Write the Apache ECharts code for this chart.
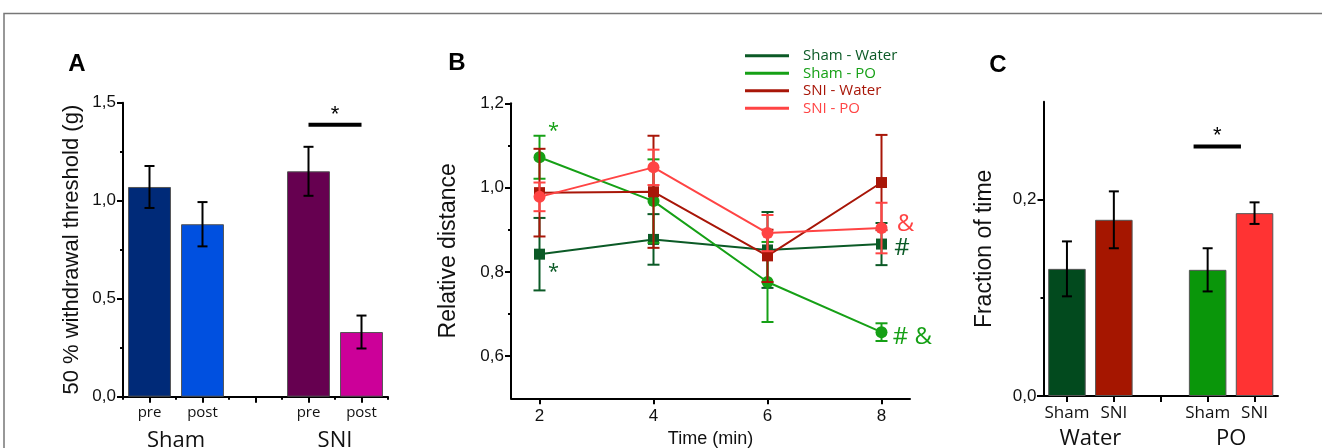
<!DOCTYPE html>
<html><head><meta charset="utf-8">
<script src="https://cdn.jsdelivr.net/npm/echarts@6/dist/echarts.min.js"></script>
<style>html,body{margin:0;padding:0;background:#fff}#c{width:1322px;height:448px}</style>
</head><body><div id="c"></div>
<script>
// ---------- Panel A ----------
const catsA = ['pre', 'post', '', 'pre', 'post'];
const valsA = [1.07, 0.88, null, 1.15, 0.33];
const errA = [0.107, 0.113, null, 0.125, 0.084];
const colorsA = ['#002A78', '#0050E0', null, '#660050', '#CC0099'];
const groupsA = [{ name: 'Sham', from: 0, to: 1 }, { name: 'SNI', from: 3, to: 4 }];
const sigA = [{ from: 3, to: 4, y: 1.388, text: '*' }];

// ---------- Panel B ----------
const timesB = [2, 4, 6, 8];
const namesB = ['Sham - Water', 'Sham - PO', 'SNI - Water', 'SNI - PO'];
const colorsB = ['#0B5A26', '#16A016', '#A81608', '#FF4444'];
const symbolsB = ['rect', 'circle', 'rect', 'circle'];
const shamWater = [0.842, 0.877, 0.852, 0.866];
const shamWaterErr = [0.086, 0.060, 0.090, 0.050];
const shamPO = [1.072, 0.968, 0.776, 0.657];
const shamPOErr = [0.051, 0.099, 0.095, 0.021];
const sniWater = [0.988, 0.990, 0.838, 1.012];
const sniWaterErr = [0.104, 0.133, 0.062, 0.113];
const sniPO = [0.978, 1.048, 0.892, 0.904];
const sniPOErr = [0.034, 0.042, 0.043, 0.060];
const ticksBy = [0.6, 0.8, 1.0, 1.2];
const minorTicksBy = [0.7, 0.9, 1.1];
const annotB = [
  { text: '*', x: 2.245, y: 1.134, series: 1, size: 20 },
  { text: '*', x: 2.245, y: 0.800, series: 0, size: 20 },
  { text: '&', x: 8.42, y: 0.914, series: 3, size: 24 },
  { text: '#', x: 8.36, y: 0.856, series: 0, size: 24 },
  { text: '# &', x: 8.54, y: 0.646, series: 1, size: 24 }
];

// ---------- Panel C ----------
const catsC = ['Sham', 'SNI', '', 'Sham', 'SNI'];
const valsC = [0.1296, 0.1796, null, 0.1286, 0.1864];
const errC = [0.028, 0.029, null, 0.022, 0.011];
const colorsC = ['#024A1E', '#A51600', null, '#0A960A', '#FF3333'];
const groupsC = [{ name: 'Water', from: 0, to: 1 }, { name: 'PO', from: 3, to: 4 }];
const sigC = [{ from: 2.7, to: 3.71, y: 0.2544, text: '*' }];
const ticksCy = [0, 0.2];
const minorTicksCy = [0.1];

const NUM_FONT = 'Liberation Sans';
const CAT_FONT = 'Open Sans';
const comma = v => (Math.round(v * 10) / 10).toFixed(1).replace('.', ',');

function errRender(color, capHalf) {
  return function (params, api) {
    const x = api.value(0), lo = api.value(1), hi = api.value(2);
    const pLo = api.coord([x, lo]), pHi = api.coord([x, hi]);
    const st = { stroke: color, lineWidth: 2, fill: null };
    return { type: 'group', children: [
      { type: 'line', shape: { x1: pLo[0], y1: pLo[1], x2: pHi[0], y2: pHi[1] }, style: st },
      { type: 'line', shape: { x1: pLo[0] - capHalf, y1: pLo[1], x2: pLo[0] + capHalf, y2: pLo[1] }, style: st },
      { type: 'line', shape: { x1: pHi[0] - capHalf, y1: pHi[1], x2: pHi[0] + capHalf, y2: pHi[1] }, style: st }
    ] };
  };
}
function sigRender(list) {
  return function (params, api) {
    const s = list[params.dataIndex];
    const w = api.size([1, 0])[0];
    const base = api.coord([Math.floor(s.from), s.y]);
    const x0 = base[0] + (s.from - Math.floor(s.from)) * w;
    const x1 = base[0] + (s.to - Math.floor(s.from)) * w;
    return { type: 'group', children: [
      { type: 'line', shape: { x1: x0, y1: base[1], x2: x1, y2: base[1] }, style: { stroke: '#000', lineWidth: 4 } },
      { type: 'text', x: (x0 + x1) / 2, y: base[1] + 1, style: { text: s.text, font: '22px ' + NUM_FONT, fill: '#000', align: 'center', verticalAlign: 'bottom' } }
    ] };
  };
}
function groupRender(list, gap) {
  return function (params, api) {
    const g = list[params.dataIndex];
    const p0 = api.coord([g.from, 0]), p1 = api.coord([g.to, 0]);
    return { type: 'text', x: (p0[0] + p1[0]) / 2, y: p0[1] + gap,
      style: { text: g.name, font: '22px ' + CAT_FONT, fill: '#111', align: 'center', verticalAlign: 'middle' } };
  };
}

const axisLine = { show: true, onZero: false, lineStyle: { color: '#000', width: 2 } };
const tickStyle = { color: '#000', width: 2 };

const option = {
  animation: false,
  backgroundColor: '#fff',
  grid: [
    { left: 123, top: 102.7, width: 265, height: 294, outerBoundsMode: 'none', containLabel: false },
    { left: 511, top: 103.3, width: 399, height: 295, outerBoundsMode: 'none', containLabel: false },
    { left: 1043.5, top: 101.7, width: 234.5, height: 294.3, outerBoundsMode: 'none', containLabel: false }
  ],
  legend: {
    left: 740, top: 42, orient: 'vertical', icon: 'rect', itemWidth: 44, itemHeight: 3, itemGap: 0,
    textStyle: { fontFamily: CAT_FONT, fontSize: 15, lineHeight: 17.5, padding: [0, 0, 0, 9] },
    data: namesB.map((n, i) => ({ name: n, textStyle: { color: colorsB[i] } }))
  },
  xAxis: [
    { gridIndex: 0, type: 'category', data: catsA, position: 'bottom', axisLine,
      axisTick: { show: true, alignWithLabel: true, interval: 0, length: 6, lineStyle: tickStyle },
      axisLabel: { interval: 0, fontFamily: CAT_FONT, fontSize: 15, color: '#111', margin: 9 } },
    { gridIndex: 0, type: 'category', data: catsA, position: 'bottom', axisLine: { show: false },
      axisTick: { show: true, alignWithLabel: false, interval: 0, length: 3, lineStyle: tickStyle },
      axisLabel: { show: false } },
    { gridIndex: 1, type: 'value', min: 1.5, max: 8.5, position: 'bottom', axisLine,
      splitLine: { show: false },
      axisTick: { show: true, length: 6, lineStyle: tickStyle, customValues: timesB },
      axisLabel: { customValues: timesB, fontFamily: NUM_FONT, fontSize: 17, color: '#111', margin: 10 },
      name: 'Time (min)', nameLocation: 'middle', nameGap: 28,
      nameTextStyle: { fontFamily: NUM_FONT, fontSize: 18, color: '#111' } },
    { gridIndex: 2, type: 'category', data: catsC, position: 'bottom', axisLine,
      axisTick: { show: true, alignWithLabel: true, interval: 0, length: 6, lineStyle: tickStyle },
      axisLabel: { interval: 0, fontFamily: CAT_FONT, fontSize: 17, color: '#111', margin: 9 } }
  ],
  yAxis: [
    { gridIndex: 0, type: 'value', min: 0, max: 1.5, interval: 0.5, position: 'left', axisLine,
      splitLine: { show: false },
      axisTick: { show: true, length: 6, lineStyle: tickStyle },
      minorTick: { show: true, splitNumber: 2, length: 3, lineStyle: tickStyle },
      axisLabel: { formatter: comma, fontFamily: NUM_FONT, fontSize: 17, color: '#111', margin: 7 },
      name: '50 % withdrawal threshold (g)', nameLocation: 'middle', nameRotate: 90, nameGap: 40,
      nameTextStyle: { fontFamily: NUM_FONT, fontSize: 22, color: '#111' } },
    { gridIndex: 1, type: 'value', min: 0.5, max: 1.2, position: 'left', axisLine,
      splitLine: { show: false },
      axisTick: { show: true, length: 6, lineStyle: tickStyle, customValues: ticksBy },
      axisLabel: { customValues: ticksBy, formatter: comma, fontFamily: NUM_FONT, fontSize: 17, color: '#111', margin: 7 },
      name: 'Relative distance', nameLocation: 'middle', nameRotate: 90, nameGap: 51,
      nameTextStyle: { fontFamily: NUM_FONT, fontSize: 23, color: '#111' } },
    { gridIndex: 1, type: 'value', min: 0.5, max: 1.2, position: 'left', axisLine: { show: false }, splitLine: { show: false },
      axisTick: { show: true, length: 3, lineStyle: tickStyle, customValues: minorTicksBy },
      axisLabel: { show: false } },
    { gridIndex: 2, type: 'value', min: 0, max: 0.3, position: 'left', axisLine,
      splitLine: { show: false },
      axisTick: { show: true, length: 6, lineStyle: tickStyle, customValues: ticksCy },
      axisLabel: { customValues: ticksCy, formatter: comma, fontFamily: NUM_FONT, fontSize: 17, color: '#111', margin: 7 },
      name: 'Fraction of time', nameLocation: 'middle', nameRotate: 90, nameGap: 47,
      nameTextStyle: { fontFamily: NUM_FONT, fontSize: 23, color: '#111' } },
    { gridIndex: 2, type: 'value', min: 0, max: 0.3, position: 'left', axisLine: { show: false }, splitLine: { show: false },
      axisTick: { show: true, length: 3, lineStyle: tickStyle, customValues: minorTicksCy },
      axisLabel: { show: false } }
  ],
  series: [],
  graphic: [
    { type: 'polyline', shape: { points: [[4, 448], [4, 13.5], [1322, 13.5]] }, style: { stroke: '#777', lineWidth: 1.5, fill: null } },
    { type: 'line', shape: { x1: 1037, y1: 396, x2: 1044, y2: 396 }, style: { stroke: '#000', lineWidth: 2 } },
    { type: 'text', x: 77, y: 64, style: { text: 'A', font: 'bold 24px ' + NUM_FONT, fill: '#000', align: 'center', verticalAlign: 'middle' } },
    { type: 'text', x: 457, y: 63, style: { text: 'B', font: 'bold 24px ' + NUM_FONT, fill: '#000', align: 'center', verticalAlign: 'middle' } },
    { type: 'text', x: 998, y: 65, style: { text: 'C', font: 'bold 24px ' + NUM_FONT, fill: '#000', align: 'center', verticalAlign: 'middle' } }
  ]
};

// Panel A series
option.series.push({
  type: 'bar', xAxisIndex: 0, yAxisIndex: 0, barWidth: '81%',
  data: valsA.map((v, i) => v == null ? '-' : { value: v, itemStyle: { color: colorsA[i], borderColor: '#555', borderWidth: 1 } })
});
option.series.push({
  type: 'custom', xAxisIndex: 0, yAxisIndex: 0, renderItem: errRender('#000', 5), encode: { x: 0, y: [1, 2] },
  data: valsA.map((v, i) => [i, v, errA[i]]).filter(d => d[1] != null).map(d => [d[0], d[1] - d[2], d[1] + d[2]]), z: 5
});
option.series.push({ type: 'custom', xAxisIndex: 0, yAxisIndex: 0, renderItem: sigRender(sigA), data: sigA.map(s => [s.from, s.y]), z: 5 });
option.series.push({ type: 'custom', xAxisIndex: 0, yAxisIndex: 0, renderItem: groupRender(groupsA, 44), data: groupsA.map(g => [g.from, 0]), clip: false, z: 5 });

// Panel B series
const seriesB = [shamWater, shamPO, sniWater, sniPO];
const errsB = [shamWaterErr, shamPOErr, sniWaterErr, sniPOErr];
seriesB.forEach((vals, s) => {
  option.series.push({
    type: 'custom', xAxisIndex: 2, yAxisIndex: 1, renderItem: errRender(colorsB[s], 6), encode: { x: 0, y: [1, 2] },
    data: timesB.map((t, i) => [t, vals[i] - errsB[s][i], vals[i] + errsB[s][i]]), z: 2 + s
  });
  option.series.push({
    type: 'line', name: namesB[s], xAxisIndex: 2, yAxisIndex: 1, symbol: symbolsB[s],
    symbolSize: symbolsB[s] === 'rect' ? 11 : 12,
    itemStyle: { color: colorsB[s] }, lineStyle: { color: colorsB[s], width: 2 },
    data: timesB.map((t, i) => [t, vals[i]]), z: 2 + s
  });
});
option.series.push({
  type: 'custom', xAxisIndex: 2, yAxisIndex: 1, clip: false, z: 10,
  renderItem: function (params, api) {
    const a = annotB[params.dataIndex];
    const p = api.coord([a.x, a.y]);
    return { type: 'text', x: p[0], y: p[1],
      style: { text: a.text, font: a.size + 'px ' + CAT_FONT, fill: colorsB[a.series], align: 'center', verticalAlign: 'middle' } };
  },
  data: annotB.map(a => [a.x, a.y])
});

// Panel C series
option.series.push({
  type: 'bar', xAxisIndex: 3, yAxisIndex: 3, barWidth: '80%',
  data: valsC.map((v, i) => v == null ? '-' : { value: v, itemStyle: { color: colorsC[i], borderColor: '#555', borderWidth: 1 } })
});
option.series.push({
  type: 'custom', xAxisIndex: 3, yAxisIndex: 3, renderItem: errRender('#000', 5), encode: { x: 0, y: [1, 2] },
  data: valsC.map((v, i) => [i, v, errC[i]]).filter(d => d[1] != null).map(d => [d[0], d[1] - d[2], d[1] + d[2]]), z: 5
});
option.series.push({ type: 'custom', xAxisIndex: 3, yAxisIndex: 3, renderItem: sigRender(sigC), data: sigC.map(s => [Math.floor(s.from), s.y]), z: 5 });
option.series.push({ type: 'custom', xAxisIndex: 3, yAxisIndex: 3, renderItem: groupRender(groupsC, 43), data: groupsC.map(g => [g.from, 0]), clip: false, z: 5 });

const chart = echarts.init(document.getElementById('c'), null, { renderer: 'canvas' });
chart.setOption(option);
</script>
</body></html>
